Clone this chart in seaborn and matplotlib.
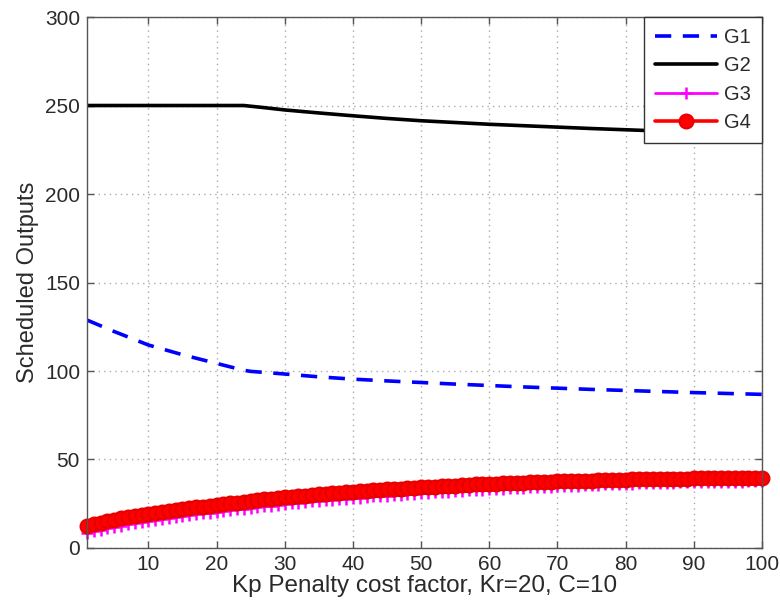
import matplotlib
matplotlib.use("Agg")
import matplotlib.pyplot as plt
import seaborn as sns
import numpy as np

# ---- data ----
x_g1 = [1, 5, 10, 15, 20, 24, 25, 30, 35, 40, 45, 50, 55, 60, 65, 70, 75, 80, 85, 90, 95, 100]
g1 = [128.8, 122.3, 114.7, 109.2, 104.3, 100.4, 99.8, 98.3, 96.7, 95.4, 94.4, 93.5, 92.6,
      91.8, 91.0, 90.3, 89.6, 89.0, 88.4, 87.8, 87.3, 86.8]

x_g2 = [1, 24, 27, 30, 35, 40, 45, 50, 55, 60, 65, 70, 75, 80, 85, 90, 95, 100]
g2 = [250.0, 250.0, 248.8, 247.5, 245.8, 244.2, 242.7, 241.4, 240.4, 239.4, 238.6,
      237.8, 237.0, 236.3, 235.6, 235.0, 234.4, 233.8]

x_dense = list(range(1, 101))
g3 = [8.5, 9.5, 10.4, 11.2, 12.0, 12.7, 13.4, 14.1, 14.7, 15.3,
      15.9, 16.5, 17.0, 17.6, 18.1, 18.6, 19.1, 19.6, 20.0, 20.5,
      20.9, 21.4, 21.8, 22.3, 22.7, 23.1, 23.6, 24.0, 24.4, 24.8,
      25.2, 25.6, 25.9, 26.3, 26.6, 27.0, 27.3, 27.6, 27.9, 28.2,
      28.5, 28.8, 29.1, 29.3, 29.6, 29.9, 30.1, 30.4, 30.6, 30.9,
      31.1, 31.4, 31.6, 31.8, 32.0, 32.3, 32.5, 32.7, 32.9, 33.1,
      33.3, 33.5, 33.7, 33.8, 34.0, 34.2, 34.4, 34.5, 34.7, 34.9,
      35.0, 35.2, 35.3, 35.5, 35.6, 35.8, 35.9, 36.0, 36.2, 36.3,
      36.4, 36.5, 36.6, 36.7, 36.8, 36.9, 37.0, 37.1, 37.1, 37.2,
      37.3, 37.3, 37.4, 37.4, 37.5, 37.5, 37.5, 37.6, 37.6, 37.6]
g4 = [12.6, 13.5, 14.4, 15.2, 16.0, 16.7, 17.4, 18.0, 18.6, 19.2,
      19.8, 20.4, 20.9, 21.5, 22.0, 22.5, 22.9, 23.4, 23.8, 24.3,
      24.7, 25.2, 25.6, 26.1, 26.5, 26.9, 27.4, 27.8, 28.2, 28.6,
      29.0, 29.3, 29.6, 30.0, 30.3, 30.6, 30.9, 31.2, 31.5, 31.8,
      32.1, 32.3, 32.6, 32.8, 33.1, 33.3, 33.6, 33.8, 34.1, 34.3,
      34.5, 34.7, 34.9, 35.1, 35.3, 35.5, 35.7, 35.9, 36.0, 36.2,
      36.4, 36.5, 36.7, 36.8, 37.0, 37.1, 37.2, 37.4, 37.5, 37.6,
      37.7, 37.8, 37.9, 38.0, 38.1, 38.2, 38.3, 38.4, 38.5, 38.6,
      38.7, 38.8, 38.8, 38.9, 39.0, 39.1, 39.1, 39.2, 39.2, 39.3,
      39.4, 39.4, 39.5, 39.5, 39.6, 39.6, 39.7, 39.7, 39.8, 39.8]

x_ticks = [10, 20, 30, 40, 50, 60, 70, 80, 90, 100]
y_ticks = [0, 50, 100, 150, 200, 250, 300]
labels = ["G1", "G2", "G3", "G4"]

# ---- style ----
sns.set_theme(style="white")
plt.rcParams["font.family"] = ["Liberation Sans", "DejaVu Sans"]

fig = plt.figure(figsize=(7.8, 6.08), dpi=100)
ax = fig.add_axes([0.1115, 0.0987, 0.8655, 0.8733])

txt = "#2a2a2a"

sns.lineplot(x=x_g1, y=g1, ax=ax, color="#0000ff", lw=2.6, label=labels[0],
             linestyle=(0, (4.5, 3.2)))
sns.lineplot(x=x_g2, y=g2, ax=ax, color="black", lw=2.6, label=labels[1])
sns.lineplot(x=x_dense, y=g3, ax=ax, color="#ff00ff", lw=2.0, marker="+",
             markersize=9, markeredgewidth=1.8, markeredgecolor="#ff00ff",
             label=labels[2], clip_on=False)
sns.lineplot(x=x_dense, y=g4, ax=ax, color="#ff0000", lw=2.6, marker="o",
             markersize=10, markeredgewidth=1.5, markerfacecolor="#ff0000",
             markeredgecolor="#e80000", label=labels[3], clip_on=False)

ax.set_xlim(1, 100)
ax.set_ylim(0, 300)
ax.set_xticks(x_ticks)
ax.set_yticks(y_ticks)
ax.tick_params(direction="in", length=5, width=1, colors="#555555",
               labelcolor=txt, labelsize=15, top=True, right=True,
               bottom=True, left=True, pad=5)
ax.grid(True, color="#aaaaaa", linestyle=(0, (1, 3)), linewidth=1.0)
for sp in ax.spines.values():
    sp.set_color("#555555")
    sp.set_linewidth(1.0)

ax.set_xlabel("Kp Penalty cost factor, Kr=20, C=10", fontsize=17.5, color=txt, labelpad=1)
ax.set_ylabel("Scheduled Outputs", fontsize=17, color=txt, labelpad=4)

leg = ax.legend(loc="upper right", borderaxespad=0, fontsize=14.5, handlelength=3.1,
                labelspacing=0.46, frameon=True, fancybox=False, framealpha=1,
                edgecolor="#333333", borderpad=0.55, handletextpad=0.35)
leg.get_frame().set_linewidth(1.0)
leg.set_zorder(10)
for t in leg.get_texts():
    t.set_color(txt)

fig.savefig("out.png", dpi=100)
